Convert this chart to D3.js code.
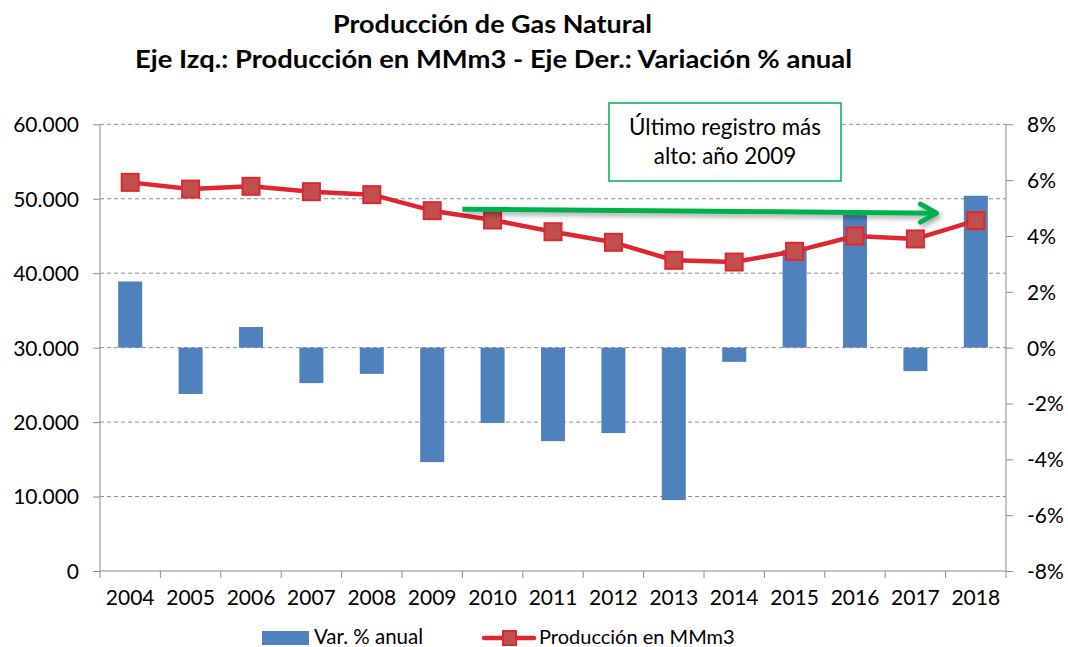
<!DOCTYPE html>
<html><head><meta charset="utf-8">
<script src="https://cdn.jsdelivr.net/npm/d3@7"></script>
<style>body{margin:0;background:#fff}svg{display:block}text{font-family:Lato,"Open Sans",sans-serif;fill:#000}</style>
</head><body><svg id="c" width="1068" height="647"></svg>
<script>
const years = ["2004","2005","2006","2007","2008","2009","2010","2011","2012","2013","2014","2015","2016","2017","2018"];
const variation = [2.37,-1.66,0.74,-1.27,-0.94,-4.1,-2.7,-3.35,-3.06,-5.46,-0.51,3.5,4.75,-0.84,5.44];
const production = [52200,51300,51670,50950,50550,48400,47150,45570,44150,41730,41500,42940,45000,44600,47050];
const leftTicks = [0,10000,20000,30000,40000,50000,60000];
const rightTicks = [-8,-6,-4,-2,0,2,4,6,8];
const titleLines = ["Producción de Gas Natural","Eje Izq.: Producción en MMm3 - Eje Der.: Variación % anual"];
const annotation = ["Último registro más","alto: año 2009"];
const legendLabels = ["Var. % anual","Producción en MMm3"];

const svg = d3.select("#c");
const L=100, R=1006, T=124.3, B=571;
const x = d3.scaleBand().domain(years).range([L,R]).paddingInner(0).paddingOuter(0);
const yL = d3.scaleLinear().domain([0,60000]).range([B,T]);
const yR = d3.scaleLinear().domain([-8,8]).range([B,T]);
const fmt = v => v===0 ? "0" : d3.format(",")(v).replace(/,/g,".");

const defs = svg.append("defs");
const f = defs.append("filter").attr("id","sh").attr("x","-5%").attr("y","-100%").attr("width","110%").attr("height","400%");
f.append("feDropShadow").attr("dx",2).attr("dy",3).attr("stdDeviation",2.5).attr("flood-color","#000").attr("flood-opacity",0.35);

// gridlines
svg.append("g").selectAll("line").data(leftTicks.filter(d=>d>0)).join("line")
  .attr("x1",L).attr("x2",R).attr("y1",d=>yL(d)).attr("y2",d=>yL(d))
  .attr("stroke","#8c8c8c").attr("stroke-width",1).attr("stroke-dasharray","4,3");

// left axis
const gl = svg.append("g").attr("transform",`translate(${L},0)`)
  .call(d3.axisLeft(yL).tickValues(leftTicks).tickFormat(fmt).tickSize(7).tickPadding(14));
gl.select(".domain").attr("stroke","#8c8c8c").attr("d",`M0,${B}V${T}`);
gl.selectAll(".tick line").attr("stroke","#8c8c8c");
gl.selectAll("text").style("font-size","21px").attr("dy","0.35em");

// right axis
const gr = svg.append("g").attr("transform",`translate(${R},0)`)
  .call(d3.axisRight(yR).tickValues(rightTicks).tickFormat(d=>d+"%").tickSize(7).tickPadding(14));
gr.select(".domain").attr("stroke","#8c8c8c").attr("d",`M0,${B}V${T}`);
gr.selectAll(".tick line").attr("stroke","#8c8c8c");
gr.selectAll("text").style("font-size","21px").attr("dy","0.35em");

// bottom axis
const gb = svg.append("g").attr("transform",`translate(0,${B})`);
gb.append("line").attr("x1",L).attr("x2",R).attr("stroke","#8c8c8c");
gb.selectAll("line.t").data(d3.range(years.length+1)).join("line").attr("class","t")
  .attr("x1",i=>L+i*x.step()).attr("x2",i=>L+i*x.step()).attr("y1",0).attr("y2",7).attr("stroke","#8c8c8c");
gb.selectAll("text").data(years).join("text")
  .attr("x",d=>x(d)+x.bandwidth()/2).attr("y",34).attr("text-anchor","middle").style("font-size","21px").text(d=>d);

// bars
const bw = 24;
svg.append("g").selectAll("rect").data(years).join("rect")
  .attr("x",(d)=>x(d)+x.bandwidth()/2-bw/2).attr("width",bw)
  .attr("y",(d,i)=>yR(Math.max(0,variation[i])))
  .attr("height",(d,i)=>Math.abs(yR(variation[i])-yR(0)))
  .attr("fill","#4f81bd");

// line
const line = d3.line().x((d,i)=>x(years[i])+x.bandwidth()/2).y(d=>yL(d));
svg.append("path").datum(production).attr("d",line).attr("fill","none")
  .attr("stroke","#e0262f").attr("stroke-width",4.5).attr("stroke-linejoin","round");
const ms=17;
svg.append("g").selectAll("rect").data(production).join("rect")
  .attr("x",(d,i)=>x(years[i])+x.bandwidth()/2-ms/2).attr("y",d=>yL(d)-ms/2)
  .attr("width",ms).attr("height",ms).attr("fill","#c0504d").attr("stroke","#e0262f").attr("stroke-width",2);

// green arrow
const i09 = years.indexOf("2009");
const ax1 = x(years[i09+1]), ay1 = yL(production[i09])-1.5;
const ax2 = x(years[13])+x.bandwidth()*0.85, ay2 = ay1+4;
const ga = svg.append("g").attr("filter","url(#sh)");
ga.append("line").attr("x1",ax1).attr("y1",ay1).attr("x2",ax2-2).attr("y2",ay2)
  .attr("stroke","#00b050").attr("stroke-width",5);
ga.append("path").attr("d",`M${ax2-16},${ay2-9}L${ax2},${ay2}L${ax2-16},${ay2+9}`)
  .attr("fill","none").attr("stroke","#00b050").attr("stroke-width",5).attr("stroke-linecap","round").attr("stroke-linejoin","round");

// annotation box
svg.append("rect").attr("x",609).attr("y",103).attr("width",232).attr("height",78)
  .attr("fill","#fff").attr("stroke","#00b050").attr("stroke-width",1.5);
svg.append("g").selectAll("text").data(annotation).join("text")
  .attr("x",725).attr("y",(d,i)=>135+i*29).attr("text-anchor","middle").style("font-size","22.4px").text(d=>d);

// title
const tw = [319, 717];
svg.append("g").selectAll("text").data(titleLines).join("text")
  .attr("x",(d,i)=>i?493.5:492.5).attr("y",(d,i)=>33+i*35).attr("text-anchor","middle")
  .attr("textLength",(d,i)=>tw[i]).attr("lengthAdjust","spacingAndGlyphs")
  .style("font-size","25px").style("font-weight","bold").text(d=>d);

// legend
const lg = svg.append("g");
lg.append("rect").attr("x",262).attr("y",631).attr("width",47).attr("height",14).attr("fill","#4f81bd");
lg.append("text").attr("x",314).attr("y",644).style("font-size","20.5px").text(legendLabels[0]);
lg.append("line").attr("x1",484).attr("x2",534).attr("y1",638).attr("y2",638).attr("stroke","#e0262f").attr("stroke-width",4.5).attr("stroke-linecap","round");
lg.append("rect").attr("x",503).attr("y",631).attr("width",13).attr("height",14).attr("fill","#c0504d").attr("stroke","#e0262f").attr("stroke-width",2);
lg.append("text").attr("x",539).attr("y",644).style("font-size","20px").text(legendLabels[1]);
</script></body></html>
